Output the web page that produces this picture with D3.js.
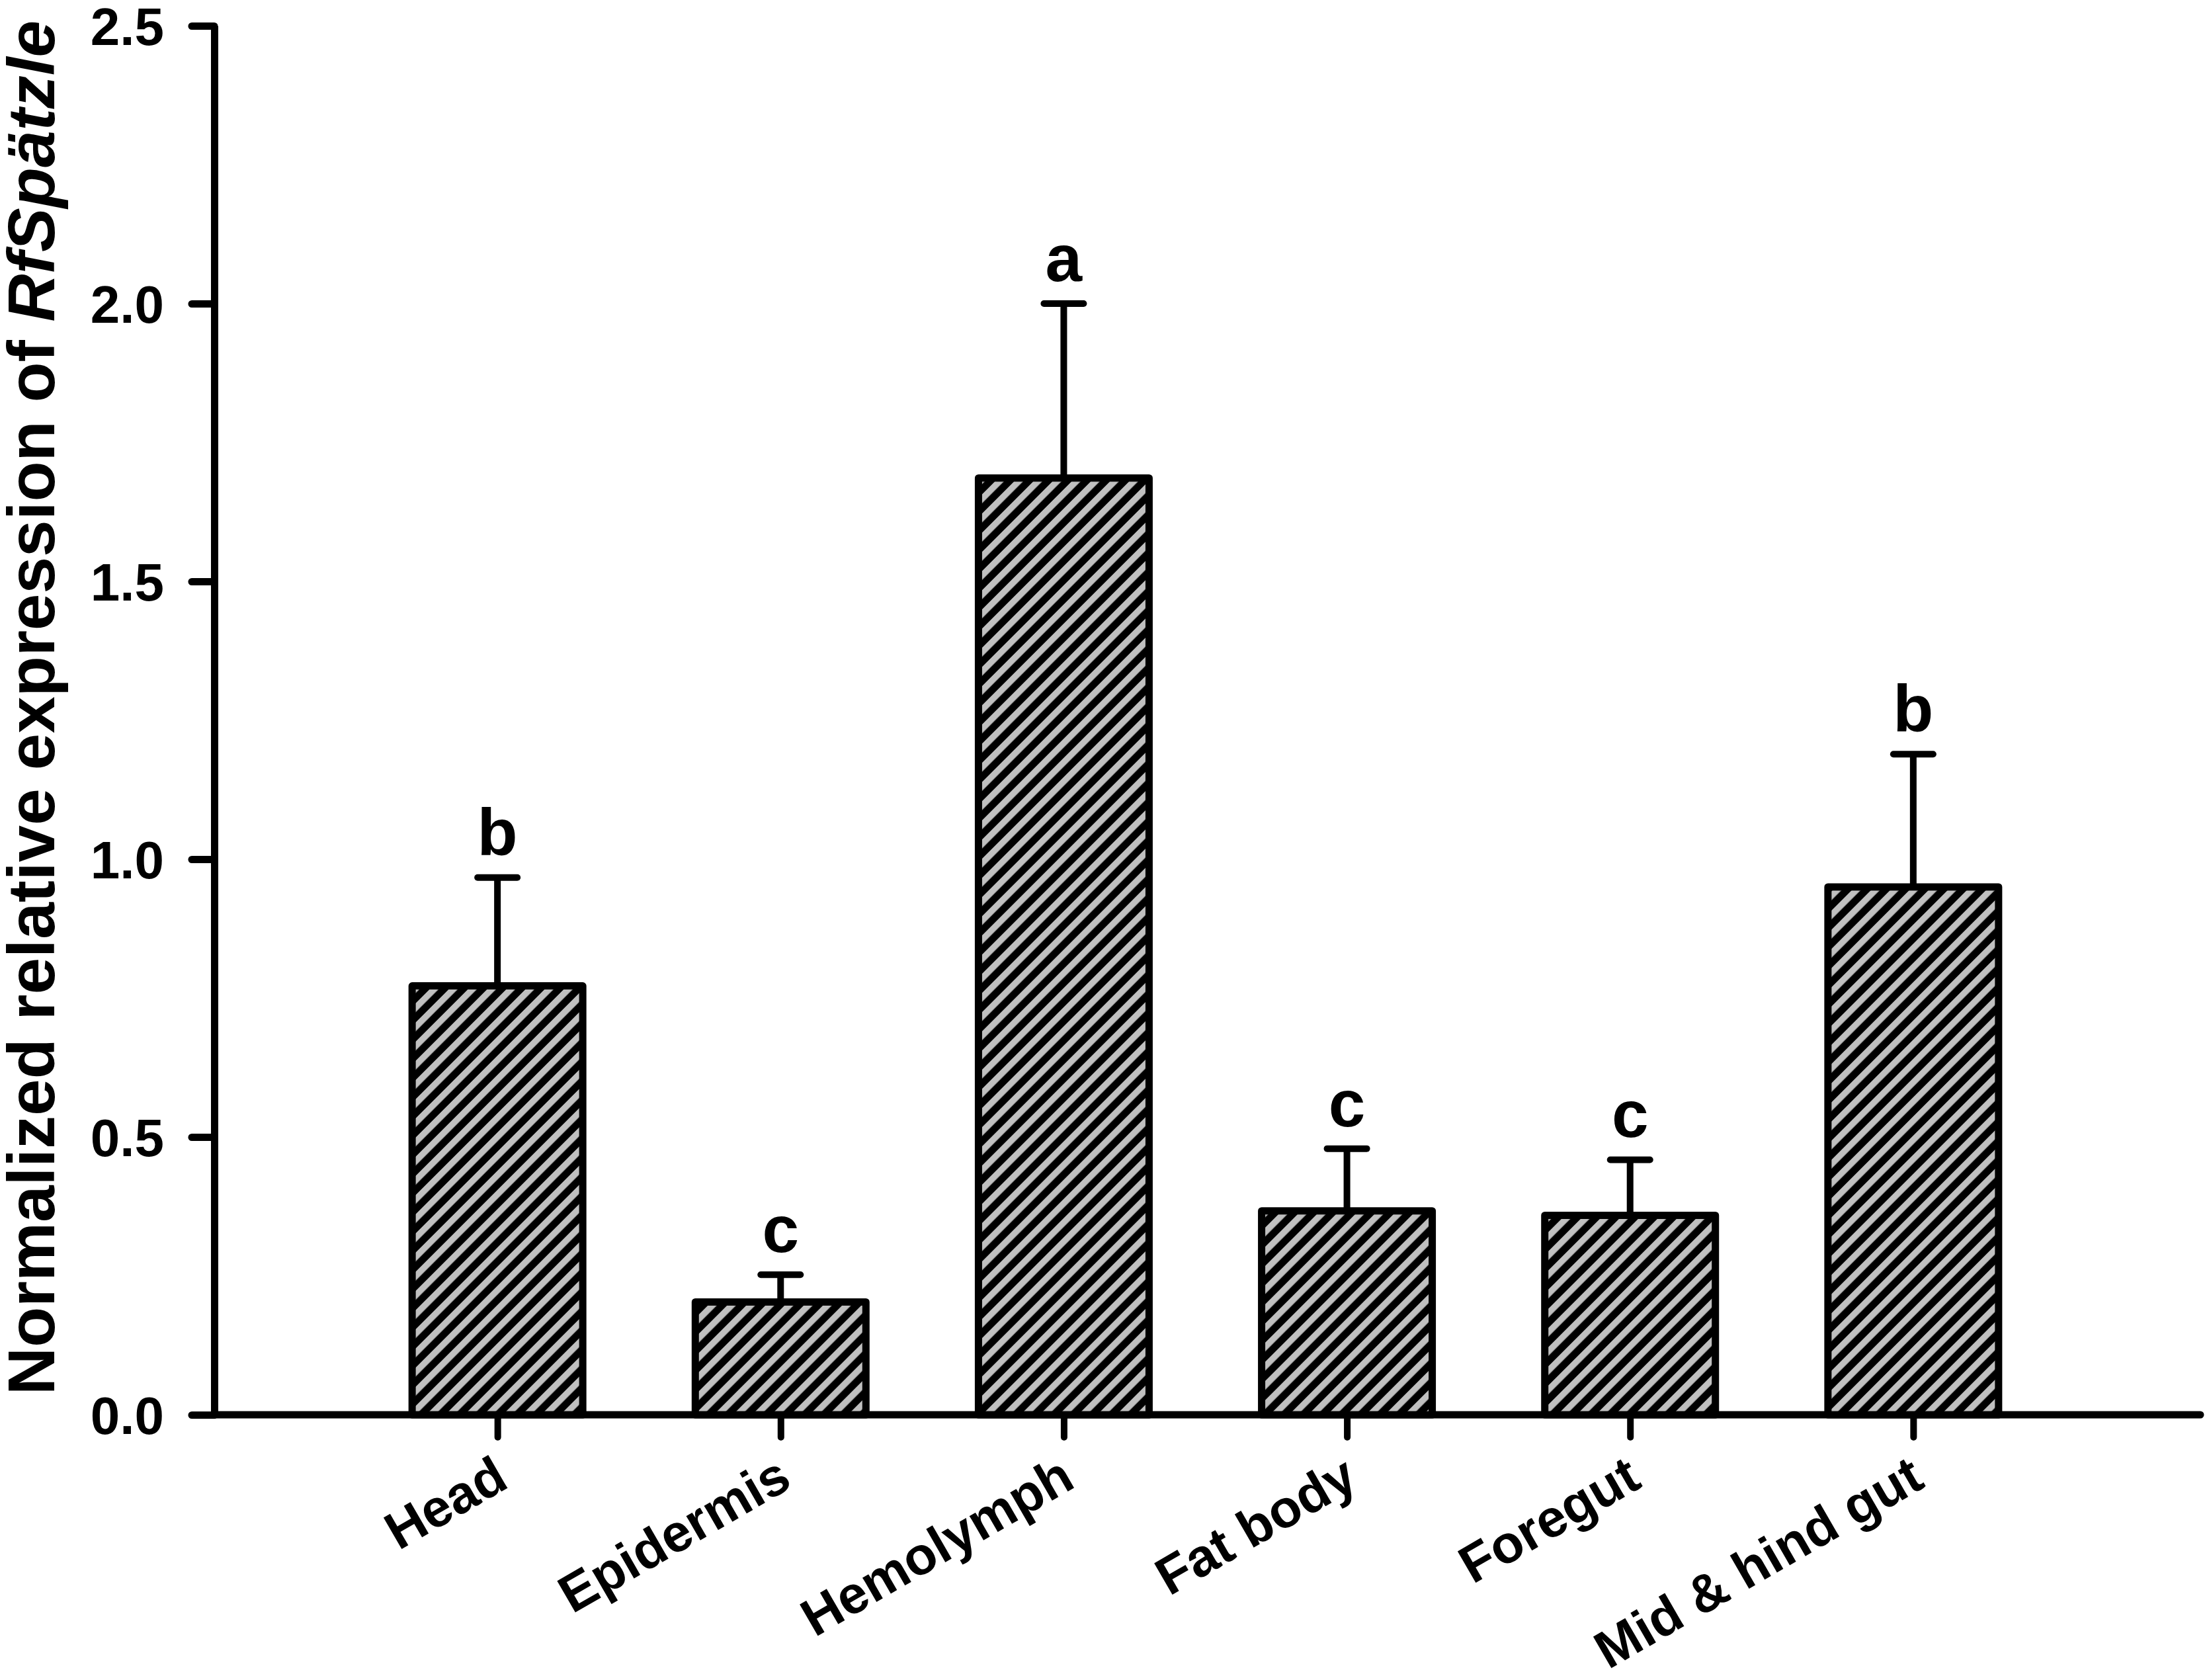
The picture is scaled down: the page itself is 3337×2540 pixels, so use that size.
<!DOCTYPE html>
<html>
<head>
<meta charset="utf-8">
<script src="https://cdn.jsdelivr.net/npm/d3@7"></script>
<style>
  body { margin: 0; background: #fff; }
  svg { display: block; font-family: "Liberation Sans", Arial, sans-serif; }
</style>
</head>
<body>
<div id="chart"></div>
<script>
// tissues and expression values
const tissues = ["Head", "Epidermis", "Hemolymph", "Fat body", "Foregut", "Mid & hind gut"];
const means = [0.772, 0.203, 1.686, 0.367, 0.359, 0.950];
const errors = [0.195, 0.049, 0.314, 0.112, 0.100, 0.239];
const groups = ["b", "c", "a", "c", "c", "b"];
const yTicks = [0, 0.5, 1.0, 1.5, 2.0, 2.5];

const width = 3337, height = 2540;

const data = tissues.map((t, i) => ({ name: t, mean: means[i], err: errors[i], group: groups[i] }));

const svg = d3.select("#chart")
  .append("svg")
  .attr("width", width)
  .attr("height", height);

svg.append("rect")
  .attr("width", width)
  .attr("height", height)
  .attr("fill", "#fff");

// hatch pattern: grey with black diagonal stripes
const defs = svg.append("defs");
const pat = defs.append("pattern")
  .attr("id", "hatch")
  .attr("patternUnits", "userSpaceOnUse")
  .attr("width", 20.5)
  .attr("height", 20.5)
  .attr("patternTransform", "rotate(45)");
pat.append("rect")
  .attr("width", 20.5)
  .attr("height", 20.5)
  .attr("fill", "#000");
pat.append("rect")
  .attr("width", 9.5)
  .attr("height", 20.5)
  .attr("fill", "#c0c0c0");

// scales
const x = d3.scalePoint()
  .domain(tissues)
  .range([324, 3321])
  .padding(1);

const y = d3.scaleLinear()
  .domain([0, 2.5])
  .range([2139, 39]);

const barWidth = 258;

// y axis
const yAxis = svg.append("g")
  .attr("transform", "translate(324,0)")
  .call(d3.axisLeft(y)
    .tickValues(yTicks)
    .tickFormat(d3.format(".1f"))
    .tickSize(34)
    .tickSizeOuter(0)
    .tickPadding(42));

yAxis.select(".domain")
  .attr("stroke", "#000")
  .attr("stroke-width", 11);
yAxis.selectAll(".tick line")
  .attr("stroke", "#000")
  .attr("stroke-width", 11)
  .attr("stroke-linecap", "round");
yAxis.selectAll(".tick text")
  .attr("fill", "#000")
  .attr("dy", "0.36em")
  .style("font-size", "80px")
  .style("font-weight", "bold");

// x axis
const xAxis = svg.append("g")
  .attr("transform", "translate(0,2139)")
  .call(d3.axisBottom(x)
    .tickSize(34)
    .tickSizeOuter(0)
    .tickFormat(""));

xAxis.select(".domain").remove();
xAxis.append("line")
  .attr("x1", 324)
  .attr("x2", 3327)
  .attr("stroke", "#000")
  .attr("stroke-width", 11)
  .attr("stroke-linecap", "round");
xAxis.selectAll(".tick line")
  .attr("stroke", "#000")
  .attr("stroke-width", 10)
  .attr("stroke-linecap", "round");

// rotated category labels
svg.selectAll(".xlabel")
  .data(data)
  .enter()
  .append("text")
  .attr("class", "xlabel")
  .attr("transform", d => `translate(${x(d.name) + 20},2247) rotate(-30)`)
  .attr("text-anchor", "end")
  .style("font-size", "80px")
  .style("font-weight", "bold")
  .text(d => d.name);

// error bars
const eb = svg.selectAll(".err")
  .data(data)
  .enter()
  .append("g")
  .attr("class", "err");

eb.append("line")
  .attr("x1", d => x(d.name))
  .attr("x2", d => x(d.name))
  .attr("y1", d => y(d.mean))
  .attr("y2", d => y(d.mean + d.err))
  .attr("stroke", "#000")
  .attr("stroke-width", 10);

eb.append("line")
  .attr("x1", d => x(d.name) - 30)
  .attr("x2", d => x(d.name) + 30)
  .attr("y1", d => y(d.mean + d.err))
  .attr("y2", d => y(d.mean + d.err))
  .attr("stroke", "#000")
  .attr("stroke-width", 10)
  .attr("stroke-linecap", "round");

// bars
svg.selectAll(".bar")
  .data(data)
  .enter()
  .append("rect")
  .attr("class", "bar")
  .attr("x", d => x(d.name) - barWidth / 2)
  .attr("y", d => y(d.mean))
  .attr("width", barWidth)
  .attr("height", d => y(0) - y(d.mean))
  .attr("fill", "url(#hatch)")
  .attr("stroke", "#000")
  .attr("stroke-width", 11)
  .attr("stroke-linejoin", "round");

// significance letters
svg.selectAll(".sig")
  .data(data)
  .enter()
  .append("text")
  .attr("class", "sig")
  .attr("x", d => x(d.name))
  .attr("y", d => y(d.mean + d.err) - 34)
  .attr("text-anchor", "middle")
  .style("font-size", "100px")
  .style("font-weight", "bold")
  .text(d => d.group);

// y axis title
const title = svg.append("text")
  .attr("transform", "translate(82,1070) rotate(-90)")
  .attr("text-anchor", "middle")
  .style("font-size", "100px")
  .style("font-weight", "bold");
title.append("tspan").text("Normalized relative expression of ");
title.append("tspan").style("font-style", "italic").text("RfSpätzle");
</script>
</body>
</html>
